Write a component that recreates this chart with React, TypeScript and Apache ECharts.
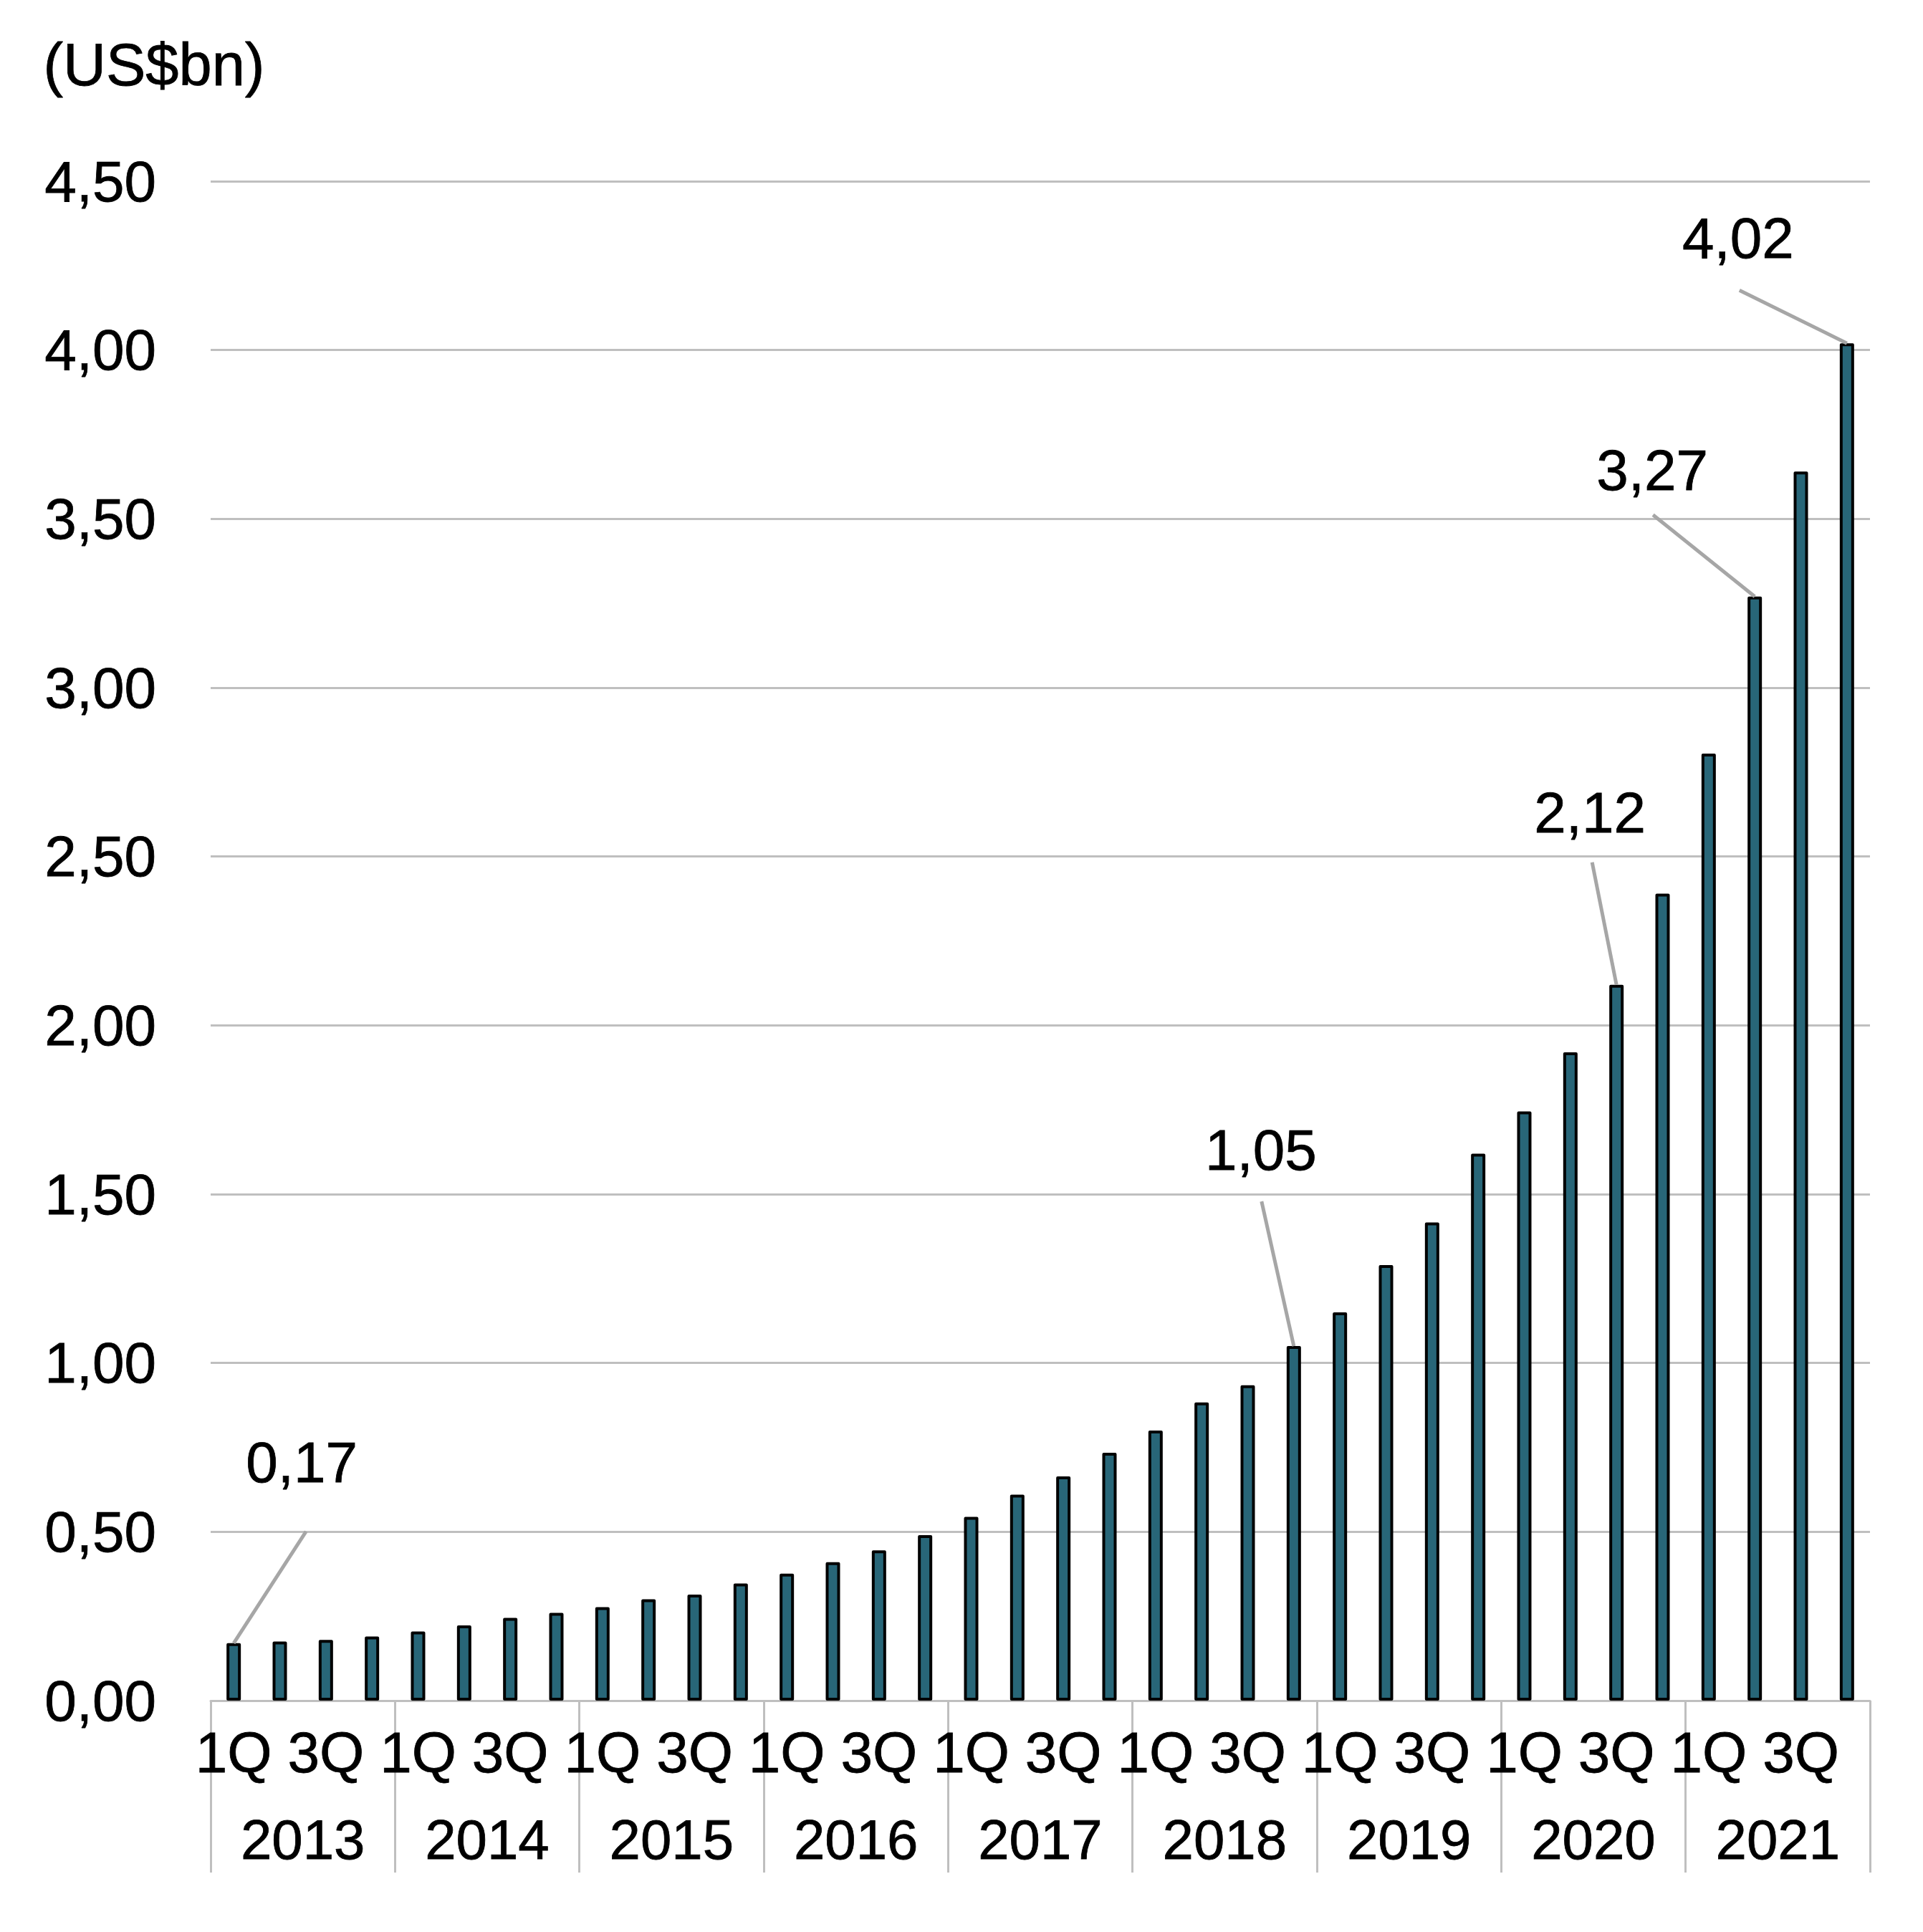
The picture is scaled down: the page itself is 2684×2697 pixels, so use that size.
import React, { useEffect, useRef } from "react";
import * as echarts from "echarts";

const quarterNames = ["1Q", "2Q", "3Q", "4Q"];
const years = ["2013", "2014", "2015", "2016", "2017", "2018", "2019", "2020", "2021"];
const values = [
  0.17, 0.175, 0.18, 0.19,
  0.205, 0.223, 0.245, 0.26,
  0.277, 0.3, 0.314, 0.347,
  0.376, 0.41, 0.445, 0.49,
  0.544, 0.61, 0.664, 0.734,
  0.8, 0.883, 0.934, 1.05,
  1.15, 1.29, 1.416, 1.62,
  1.745, 1.92, 2.12, 2.39,
  2.805, 3.27, 3.64, 4.02,
];
const annotatedIndices = [0, 23, 30, 33, 35];
const unitLabel = "(US$bn)";

const categories = years.flatMap((y) => quarterNames.map((q) => `${q} ${y}`));
const fmt = (v: number) => v.toFixed(2).replace(".", ",");

// pixel offsets (relative to bar top) of leader-line start and label centre
const annotationLayout = [
  { lx: 101, ly: -156, tx: 95, ty: -252 },
  { lx: -45, ly: -202, tx: -46, ty: -274 },
  { lx: -34, ly: -171, tx: -37, ty: -240 },
  { lx: -142, ly: -114, tx: -143, ty: -176 },
  { lx: -150, ly: -74, tx: -152, ty: -147 },
];

const FONT = "'Liberation Sans', Arial, sans-serif";
const FS = 80;
const GRID_COLOR = "#bfbfbf";
const TXT = { color: "#000", fontFamily: FONT, textBorderColor: "#000", textBorderWidth: 0.8 };

export default function App() {
  const ref = useRef<HTMLDivElement>(null);
  useEffect(() => {
    if (!ref.current) return;
    const chart = echarts.init(ref.current, undefined, { renderer: "svg" });
    const option: any = {
      animation: false,
      backgroundColor: "#ffffff",
      textStyle: { fontFamily: FONT },
      grid: { left: 294, right: 74, top: 253, bottom: 323, containLabel: false },
      graphic: [
        {
          type: "text",
          left: 60,
          top: 49,
          style: { text: unitLabel, font: `83px ${FONT}`, fill: "#000", stroke: "#000", lineWidth: 0.8 },
        },
      ],
      xAxis: [
        {
          type: "category",
          data: categories,
          position: "bottom",
          axisLine: { show: true, lineStyle: { color: GRID_COLOR, width: 3 } },
          axisTick: { show: false },
          axisLabel: {
            ...TXT,
            interval: 0,
            margin: 32,
            fontSize: FS,
            lineHeight: FS,
            formatter: (v: string, i: number) => (i % 2 === 0 ? v.split(" ")[0] : ""),
          },
          splitLine: { show: false },
        },
        {
          type: "category",
          data: years,
          position: "bottom",
          axisLine: { show: false },
          axisTick: { show: true, length: 240, lineStyle: { color: GRID_COLOR, width: 3 } },
          axisLabel: {
            ...TXT,
            interval: 0,
            margin: 154,
            fontSize: 78,
            lineHeight: FS,
          },
          splitLine: { show: false },
        },
      ],
      yAxis: {
        type: "value",
        min: 0,
        max: 4.5,
        interval: 0.5,
        axisLine: { show: false },
        axisTick: { show: false },
        axisLabel: {
          ...TXT,
          margin: 76,
          fontSize: 80,
          formatter: (v: number) => fmt(v),
        },
        splitLine: { show: true, lineStyle: { color: GRID_COLOR, width: 3 } },
      },
      series: [
        {
          type: "bar",
          xAxisIndex: 0,
          data: values,
          barWidth: 20,
          itemStyle: { color: "#286678", borderColor: "#000", borderWidth: 4, borderJoin: "round" },
          z: 2,
        },
        {
          type: "custom",
          xAxisIndex: 0,
          yAxisIndex: 0,
          z: 5,
          data: annotatedIndices.map((i) => [i, values[i]]),
          renderItem: (params: any, api: any) => {
            const idx = api.value(0);
            const val = api.value(1);
            const p = api.coord([idx, val]);
            const l = annotationLayout[params.dataIndex];
            return {
              type: "group",
              children: [
                {
                  type: "line",
                  shape: { x1: p[0], y1: p[1], x2: p[0] + l.lx, y2: p[1] + l.ly },
                  style: { stroke: "#a6a6a6", lineWidth: 5 },
                },
                {
                  type: "text",
                  x: p[0] + l.tx,
                  y: p[1] + l.ty,
                  style: {
                    text: fmt(val),
                    font: `${FS}px ${FONT}`,
                    fill: "#000",
                    stroke: "#000",
                    lineWidth: 0.8,
                    align: "center",
                    verticalAlign: "middle",
                  },
                },
              ],
            };
          },
        },
      ],
    };
    chart.setOption(option);
    return () => chart.dispose();
  }, []);
  return (
    <div
      ref={ref}
      style={{ position: "fixed", left: 0, top: 0, width: "2684px", height: "2697px", background: "#fff" }}
    />
  );
}
